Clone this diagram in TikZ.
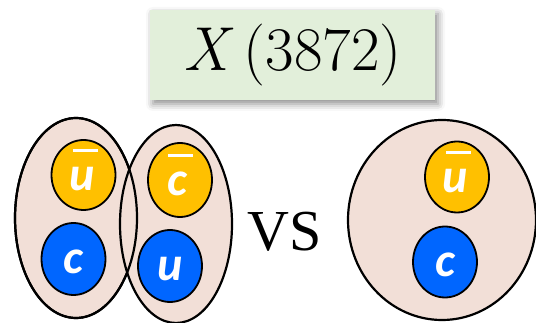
\documentclass[tikz,border=0pt]{standalone}
\usepackage{fontspec}
\newfontfamily\quarkfont{Carlito}
\newfontfamily\vsfont{Liberation Serif}
\usetikzlibrary{shadows.blur,shapes.geometric}
\definecolor{ovalfill}{HTML}{F2DFD7}
\definecolor{titlefill}{HTML}{E2EFDA}
\definecolor{antiq}{HTML}{FFC000}
\definecolor{quarkq}{HTML}{0066FF}
\tikzset{
  hadron/.style={ellipse, draw=black, line width=2.2pt, fill=ovalfill, inner sep=0pt},
  quark/.style={ellipse, draw=black, line width=1.8pt, inner sep=0pt, minimum width=64pt, minimum height=72pt},
  anti/.style={quark, fill=antiq},
  plain/.style={quark, fill=quarkq},
  qlabel/.style={anchor=base, inner sep=0pt, text=white,
    font=\quarkfont\bfseries\itshape\fontsize{48}{48}\selectfont},
}
\newcommand{\qbar}[1]{\tikz[baseline=(q.base)]{\node[inner sep=0pt,outer sep=0pt] (q) {#1};\fill[white] ([xshift=-9.5pt,yshift=38.5pt]q.base) rectangle ([xshift=15.5pt,yshift=41.5pt]q.base);}}
\begin{document}
\begin{tikzpicture}[x=1pt,y=-1pt]
\useasboundingbox (0,0) rectangle (536,323);
% title
\node[draw=none, fill=titlefill, minimum width=285pt, minimum height=90pt,
  blur shadow={shadow xshift=3pt, shadow yshift=-4pt, shadow blur radius=7pt, shadow opacity=45},
  font=\fontsize{62}{70}\selectfont] (title) at (292.5,55) {\textit{X}\,(3872)};
% left molecule
\node[hadron, minimum width=122pt, minimum height=200pt] (m1) at (76,218) {};
\node[hadron, minimum width=112pt, minimum height=198pt] (m2) at (176,224) {};
\draw[line width=2.2pt] (m1.center) ellipse [x radius=61pt, y radius=100pt];
\node[anti, minimum height=70pt] (ub1) at (83.5,175) {};
\node[qlabel] at ([yshift=-16pt]ub1.center) {\qbar{u}};
\node[plain] (c1) at (73.5,259) {};
\node[qlabel] at ([yshift=-14.5pt]c1.center) {c};
\node[anti, minimum height=74pt] (cb1) at (180,180) {};
\node[qlabel] at ([yshift=-16pt]cb1.center) {\qbar{c}};
\node[plain] (u1) at (170,266) {};
\node[qlabel] at ([yshift=-14.5pt]u1.center) {u};
% vs
\node[font=\vsfont\fontsize{58}{60}\selectfont, inner sep=0pt] (vs) at (285,232) {VS};
% right tetraquark
\node[hadron, minimum width=188pt, minimum height=200pt] (t) at (442,220) {};
\node[anti, minimum height=71pt] (ub2) at (457,177) {};
\node[qlabel] at ([yshift=-16pt]ub2.center) {\qbar{u}};
\node[plain, minimum height=71pt] (c2) at (445,262) {};
\node[qlabel] at ([yshift=-14.5pt]c2.center) {c};
\end{tikzpicture}
\end{document}
